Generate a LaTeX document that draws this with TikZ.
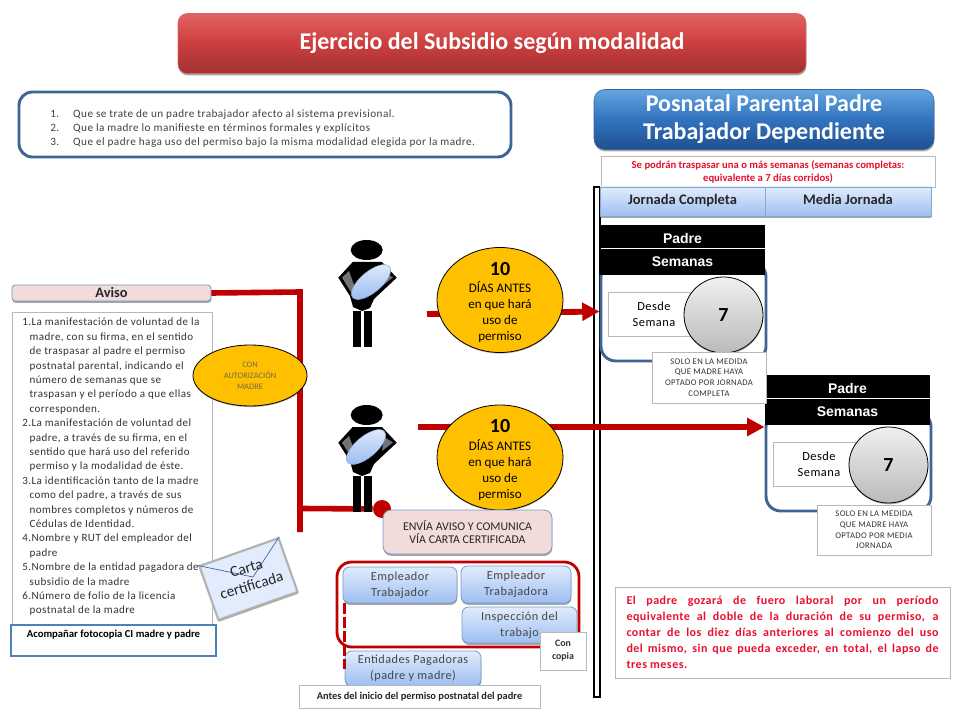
\documentclass[tikz,border=0pt]{standalone}
\usepackage{fontspec}
\setmainfont{Carlito}
\newfontfamily\espaciada[LetterSpace=4]{Carlito}
\newfontfamily\arialfont{Liberation Sans}
\usetikzlibrary{arrows.meta,shapes.geometric,shadows}
\definecolor{rojolinea}{HTML}{C00000}
\definecolor{azulborde}{HTML}{3F6594}
\definecolor{azulmarco}{HTML}{4F81BD}
\definecolor{rosado}{HTML}{F2DCDB}
\definecolor{amarillo}{HTML}{FFC000}
\definecolor{rojotexto}{HTML}{E8102C}
\definecolor{grisborde}{HTML}{B8B8B8}
\definecolor{celesteA}{HTML}{E2ECFC}
\definecolor{celesteB}{HTML}{9DBEF2}
\tikzset{
  pxsize/.style 2 args={minimum width=#1*0.75pt, minimum height=#2*0.75pt, inner sep=0pt},
  sombra/.style={drop shadow={shadow xshift=0.3pt, shadow yshift=-1.4pt, opacity=0.35, fill=black}},
  blanca/.style={draw=grisborde, fill=white, line width=0.6pt, align=center},
  rosa/.style={draw=azulmarco!80, fill=rosado, line width=0.6pt, align=center, sombra},
  celeste/.style={rounded corners=5pt, draw=azulmarco!80, top color=celesteA, bottom color=celesteB,
    line width=0.6pt, align=center, text=black!72, sombra, font=\espaciada\fontsize{9.2pt}{12pt}\selectfont},
  negra/.style={fill=black, text=white, font=\arialfont\bfseries\fontsize{10.5pt}{12pt}\selectfont},
  marco/.style={draw=azulborde, line width=2.2pt, rounded corners=10pt},
  dias/.style={ellipse, draw=black, fill=amarillo, line width=0.6pt, align=center,
    drop shadow={shadow xshift=0.2pt, shadow yshift=-0.8pt, opacity=0.3, fill=black},
    font=\fontsize{9.8pt}{12pt}\selectfont},
  siete/.style={ellipse, draw=black, top color=black!6, bottom color=black!27, line width=0.6pt,
    drop shadow={shadow xshift=0.2pt, shadow yshift=-1pt, opacity=0.3, fill=black},
    font=\bfseries\fontsize{15pt}{18pt}\selectfont},
  conector/.style={draw=rojolinea, line width=4.2pt},
  flecha/.style={draw=rojolinea, line width=4.4pt, -{Triangle[length=13pt,width=13pt]}},
}
\begin{document}
\begin{tikzpicture}[x=0.75pt, y=-0.75pt]
  \useasboundingbox (0,0) rectangle (960,720);
  % titulo
  \node[pxsize={628}{60}, rounded corners=7pt, draw=rojolinea!60, top color={rgb,255:red,226;green,98;blue,98}, bottom color={rgb,255:red,160;green,50;blue,50},
    middle color={rgb,255:red,205;green,62;blue,62}, text=white, sombra, font=\bfseries\fontsize{18pt}{21pt}\selectfont]
    (titulo) at (492,43.5) {Ejercicio del Subsidio según modalidad};
  % condiciones
  \node[pxsize={492}{65}, marco, fill=white] (condiciones) at (265,124.5) {};
  \node[anchor=west, align=left, inner sep=0pt, text=black!75, font=\espaciada\fontsize{8.4pt}{10.5pt}\selectfont] (listaCond) at (50,129)
    {\makebox[17.2pt][l]{1.}Que se trate de un padre trabajador afecto al sistema previsional.\\
     \makebox[17.2pt][l]{2.}Que la madre lo manifieste en términos formales y explícitos\\
     \makebox[17.2pt][l]{3.}Que el padre  haga uso del permiso bajo la misma modalidad elegida por la madre.};
  % cabecera derecha
  \node[pxsize={340}{60}, rounded corners=8pt, draw=azulborde, top color={rgb,255:red,100;green,165;blue,225}, bottom color={rgb,255:red,30;green,80;blue,145},
    middle color={rgb,255:red,50;green,115;blue,190}, text=white, align=center, sombra, font=\bfseries\fontsize{18pt}{21pt}\selectfont]
    (posnatal) at (764,119.5) {Posnatal Parental Padre\\Trabajador Dependiente};
  \node[pxsize={334}{31}, blanca, text=rojotexto, font=\bfseries\fontsize{8pt}{9.8pt}\selectfont] (semanasNota) at (768,171.5)
    {Se podrán traspasar una o más semanas (semanas completas:\\equivalente a 7 días corridos)};
  % riel negro
  \draw[line width=1.9pt, fill=white] (594,187) rectangle (600,697);
  \foreach \nom/\cx/\ancho/\txt in {jornadaC/682.5/165/Jornada Completa, mediaJ/848/166/Media Jornada}
    \node[pxsize={\ancho}{29}, draw=azulmarco!70, top color=celesteA, bottom color=celesteB, line width=0.5pt, sombra,
      text=black!85, text height=7.5pt, text depth=2.5pt, font=\bfseries\fontsize{10.9pt}{13pt}\selectfont] (\nom) at (\cx,201.5) {\txt};
  % columnas padre / semanas
  \foreach \col/\dx/\dy in {A/0/0, B/165/150} {
    \node[pxsize={165}{99}, marco, rounded corners=11pt, fill=white] (caja\col) at ({683.5+\dx},{311.5+\dy}) {};
    \node[pxsize={165}{22.5}, negra, text height=10.5pt, text depth=0pt] (padre\col) at ({682.5+\dx},{236.3+\dy}) {Padre};
    \node[pxsize={165}{26.5}, negra] (semanas\col) at ({682.5+\dx},{261.8+\dy}) {Semanas};
    \node[pxsize={92}{44}, blanca, font=\espaciada\fontsize{9.3pt}{12pt}\selectfont] (desde\col) at ({654+\dx},{314+\dy}) {Desde\\Semana};
    \node[pxsize={79}{76}, siete] (circulo\col) at ({723.5+\dx},{315+\dy}) {7};
  }
  \node[pxsize={114}{51}, blanca, text=black!80, font=\espaciada\fontsize{6.5pt}{8pt}\selectfont] (notaA) at (709,377.5)
    {SOLO EN LA MEDIDA\\QUE MADRE HAYA\\OPTADO POR JORNADA\\COMPLETA};
  \node[pxsize={114}{50}, blanca, text=black!80, font=\espaciada\fontsize{6.5pt}{8pt}\selectfont] (notaB) at (874,530)
    {SOLO EN LA MEDIDA\\QUE MADRE HAYA\\OPTADO POR MEDIA\\JORNADA};
  % lineas rojas
  \coordinate (codo) at (300,292);
  \coordinate (pie) at (300,532);
  \coordinate (rama) at (300,508.5);
  \coordinate (inicioA) at (427,314);
  \coordinate (inicioB) at (418,427);
  \node[pxsize={199}{16}, rosa, rounded corners=2.5pt, font=\bfseries\fontsize{10.8pt}{12pt}\selectfont, text=black!85] (aviso) at (111.5,293) {Aviso};
  \draw[conector] (aviso.east) -- (codo) -- (pie);
  \node[pxsize={18}{18}, circle, fill=rojolinea] (punto) at (382,509) {};
  \draw[conector] (rama) -- (punto);
  \draw[flecha] (inicioA) -- (cajaA.west);
  \draw[flecha] (inicioB) -- (cajaB.west |- inicioB);
  % figuras del padre
  \foreach \lx/\oy in {371/0, 366/165} {
    \fill (366.7,{250+\oy}) ellipse (16 and 10);
    \fill (338.3,{277.7+\oy}) -- (352.7,{262+\oy}) -- (382,{262+\oy}) -- (396.7,{277.7+\oy}) -- (374,{299+\oy})
      -- (370,{308+\oy}) -- (362,{311+\oy}) -- (353,{307+\oy}) -- (350,{296+\oy}) -- cycle;
    \fill[black!55] (342,{277.5+\oy}) -- (349,{271+\oy}) -- (357,{293+\oy}) -- (354,{297+\oy}) -- cycle;
    \fill[black!55] (384,{272+\oy}) -- (393,{277.5+\oy}) -- (382,{286+\oy}) -- cycle;
    \fill (352.7,{311+\oy}) rectangle (360.5,{347+\oy});
    \fill (364,{311+\oy}) rectangle (372,{347+\oy});
    \node[pxsize={48}{21}, ellipse, rotate=40, draw=azulmarco!70, line width=0.4pt, top color=celesteA, bottom color=celesteB]
      (lupa\oy) at (\lx,{282+\oy}) {};
  }
  % globos
  \foreach \col/\cy in {A/300, B/457.5} {
    \node[pxsize={126}{105}, dias] (dias\col) at (500,\cy) {};
    \node[align=center, inner sep=0pt, font=\fontsize{9.8pt}{12pt}\selectfont] (diasTexto\col) at (500,{\cy+2.5})
      {{\bfseries\fontsize{15pt}{17pt}\selectfont 10}\\[1pt]DÍAS ANTES\\en que hará\\uso de\\permiso};
  }
  % texto aviso
  \node[pxsize={200}{316}, blanca] (avisoCaja) at (112,470) {};
  \node[anchor=north west, inner sep=0pt, align=left, text=black!80, font=\espaciada\fontsize{8.3pt}{10.8pt}\selectfont] (avisoTexto) at (22,318)
    {1.La manifestación de voluntad de la\\
     \hspace*{5.5pt}madre, con su firma, en el sentido\\
     \hspace*{5.5pt}de traspasar al padre el permiso\\
     \hspace*{5.5pt}postnatal parental, indicando el\\
     \hspace*{5.5pt}número de semanas que se\\
     \hspace*{5.5pt}traspasan y el período a que ellas\\
     \hspace*{5.5pt}corresponden.\\
     2.La manifestación de voluntad del\\
     \hspace*{5.5pt}padre, a través de su firma, en el\\
     \hspace*{5.5pt}sentido que hará uso del referido\\
     \hspace*{5.5pt}permiso y la modalidad de éste.\\
     3.La identificación tanto de la madre\\
     \hspace*{5.5pt}como del padre, a través de sus\\
     \hspace*{5.5pt}nombres completos y números de\\
     \hspace*{5.5pt}Cédulas de Identidad.\\
     4.Nombre y RUT del empleador del\\
     \hspace*{5.5pt}padre\\
     5.Nombre de la entidad pagadora de\\
     \hspace*{5.5pt}subsidio de la madre\\
     6.Número de folio de la licencia\\
     \hspace*{5.5pt}postnatal de la madre};
  \node[pxsize={205}{31}, draw=azulmarco, fill=white, line width=2.2pt, align=center, font=\bfseries\fontsize{8pt}{9.5pt}\selectfont]
    (acompanar) at (113.5,640.5) {Acompañar fotocopia CI madre y padre\\\mbox{}};
  \node[pxsize={114}{61}, dias, text=yellow!35!black, align=center, font=\fontsize{6.3pt}{8.2pt}\selectfont] (autorizacion) at (250,375.5) {CON\\AUTORIZACIÓN\\MADRE};
  % carta
  \node[pxsize={84}{57}, rotate=19.5, draw=black!30, fill=celesteA, line width=1.6pt, sombra] (carta) at (248.5,579) {};
  \coordinate (pliegue) at (253,577);
  \draw[azulborde, line width=0.5pt] (carta.north west) -- (pliegue) -- (carta.north east);
  \node[rotate=17, align=center, text=black!85, font=\fontsize{11.5pt}{13.5pt}\selectfont] (cartaTexto) at (249,577) {Carta\\certificada};
  % envio y copias
  \node[pxsize={169}{44}, rosa, rounded corners=6pt, text=black!85, font=\fontsize{8.9pt}{10pt}\selectfont] (envia) at (467.5,532) {ENVÍA AVISO Y COMUNICA\\VÍA CARTA CERTIFICADA};
  \node[pxsize={242}{85}, draw=rojolinea, line width=2.1pt, rounded corners=11pt] (grupo) at (458,604.5) {};
  \node[pxsize={114}{36}, celeste] (empTrabajador) at (400,585) {Empleador\\Trabajador};
  \node[pxsize={110}{37}, celeste] (empTrabajadora) at (516,584.5) {Empleador\\Trabajadora};
  \node[pxsize={115}{36}, celeste] (inspeccion) at (519.5,625) {Inspección del\\trabajo};
  \node[pxsize={136}{35}, celeste] (entidades) at (413,668.5) {Entidades Pagadoras\\(padre y madre)};
  \draw[draw=rojolinea, line width=2.2pt, dash pattern=on 8pt off 2.5pt] ([xshift=1.5pt]empTrabajador.south west) -- ([xshift=1.5pt]empTrabajador.south west |- entidades.west);
  \node[pxsize={46}{38}, blanca, font=\bfseries\fontsize{7.4pt}{9.8pt}\selectfont, text=black!80] (copia) at (563,651) {Con\\copia};
  \node[pxsize={241}{23}, blanca, font=\bfseries\fontsize{7.8pt}{9.5pt}\selectfont, text=black!85] (antes) at (419.5,696.5) {Antes del inicio del permiso postnatal del padre};
  % fuero laboral
  \node[pxsize={335}{91}, blanca, text=rojotexto, align=left, font=\espaciada\bfseries\fontsize{9pt}{12pt}\selectfont] (fuero) at (782.5,632.5)
    {\makebox[234pt][s]{El padre gozará de fuero laboral por un período}\\
     \makebox[234pt][s]{equivalente al doble de la duración de su permiso, a}\\
     \makebox[234pt][s]{contar de los diez días anteriores al comienzo del uso}\\
     \makebox[234pt][s]{del mismo, sin que pueda exceder, en total, el lapso de}\\
     \makebox[234pt][l]{tres meses.}};
\end{tikzpicture}
\end{document}
